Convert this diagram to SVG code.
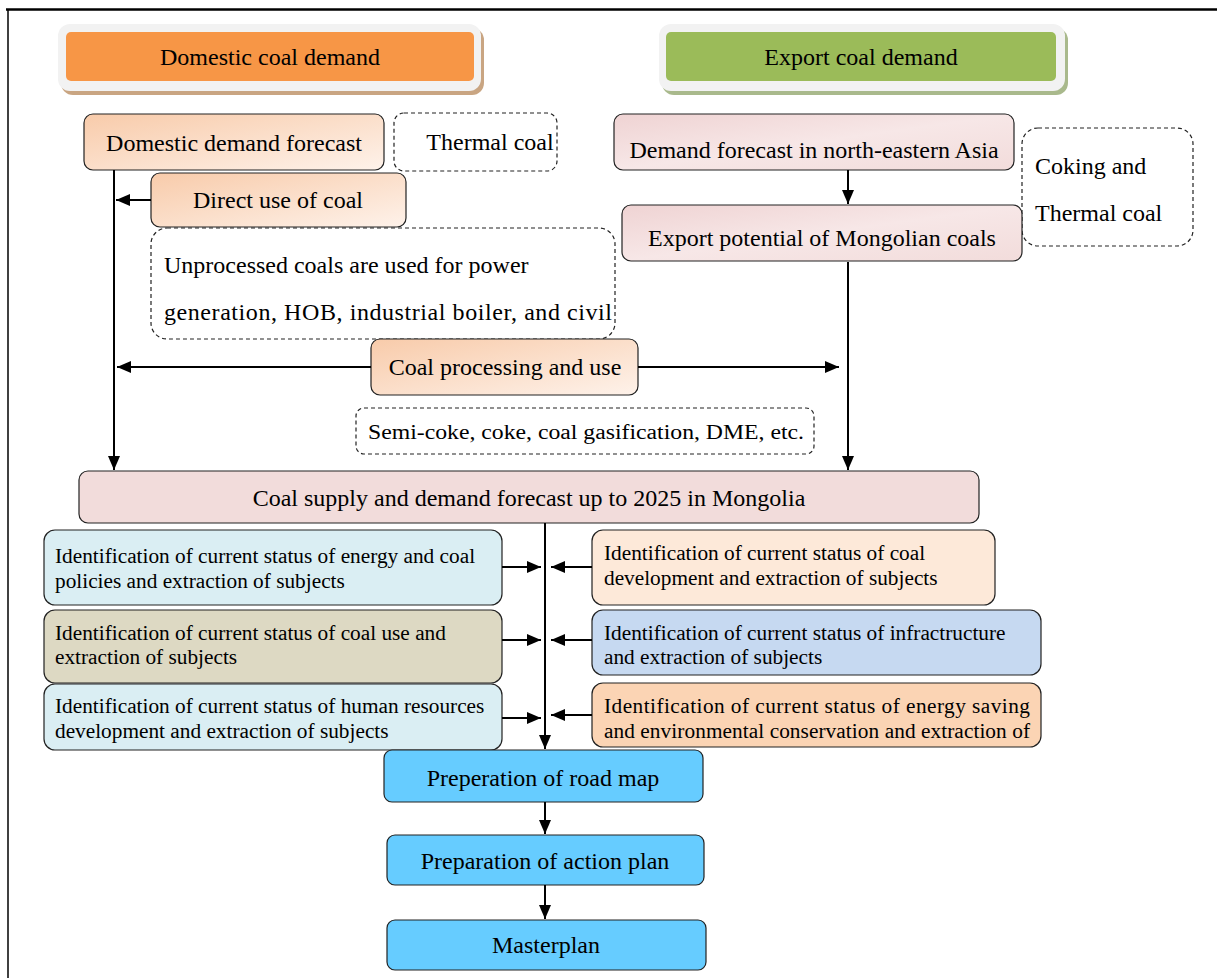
<svg xmlns="http://www.w3.org/2000/svg" width="1217" height="978" viewBox="0 0 1217 978">
<style>
text{font-family:"Liberation Serif","Times New Roman",serif;fill:#000}
.t24{font-size:24px}
.t21{font-size:21.3px}
.c{text-anchor:middle}
.box{stroke:#222;stroke-width:1.2}
.dash{fill:#fff;stroke:#222;stroke-width:1.2;stroke-dasharray:4 3}
.ln{stroke:#000;stroke-width:2;fill:none}
</style>
<defs>
<marker id="ah" markerUnits="userSpaceOnUse" markerWidth="14" markerHeight="12" refX="14" refY="6" orient="auto">
<path d="M0,0 L14,6 L0,12 z" fill="#000"/>
</marker>
<linearGradient id="peach" x1="0" y1="0" x2="1" y2="1">
<stop offset="0" stop-color="#F8CBAA"/>
<stop offset="1" stop-color="#FEF2EA"/>
</linearGradient>
<linearGradient id="pink" x1="0" y1="0" x2="1" y2="1">
<stop offset="0" stop-color="#EFD3D3"/>
<stop offset="0.5" stop-color="#F7E7E7"/>
<stop offset="1" stop-color="#F2DCDB"/>
</linearGradient>
</defs>
<rect width="1217" height="978" fill="#fff"/>
<g id="frame">
<line x1="6" y1="9.5" x2="1217" y2="9.5" stroke="#000" stroke-width="2.5"/>
<line x1="8" y1="9" x2="8" y2="978" stroke="#000" stroke-width="1.5"/>
</g>
<g id="domestic-coal-demand">
<rect x="61" y="28" width="423" height="67" rx="12" fill="#C9A582"/>
<rect x="58" y="24" width="423" height="67" rx="12" fill="#F2F2F2"/>
<rect x="66" y="32" width="408" height="49" rx="5" fill="#F79646"/>
<text class="t24 c" x="270" y="65">Domestic coal demand</text>
</g>
<g id="export-coal-demand">
<rect x="662" y="28" width="406" height="67" rx="12" fill="#A9B98C"/>
<rect x="659" y="24" width="406" height="67" rx="12" fill="#F2F2F2"/>
<rect x="666" y="32" width="390" height="49" rx="5" fill="#9BBB59"/>
<text class="t24 c" x="861" y="65">Export coal demand</text>
</g>
<g id="domestic-demand-forecast">
<rect class="box" x="84" y="114" width="300" height="56" rx="9" fill="url(#peach)"/>
<text class="t24 c" x="234" y="151">Domestic demand forecast</text>
</g>
<g id="thermal-coal">
<rect class="dash" x="394" y="113" width="163" height="58" rx="10"/>
<text class="t24 c" x="490" y="150">Thermal coal</text>
</g>
<g id="ne-asia-forecast">
<rect class="box" x="614" y="114" width="400" height="56" rx="9" fill="url(#pink)"/>
<text class="t24 c" x="814" y="158">Demand forecast in north-eastern Asia</text>
</g>
<g id="coking-thermal">
<rect class="dash" x="1022" y="128" width="171" height="118" rx="16"/>
<text class="t24" x="1035" y="174">Coking and</text>
<text class="t24" x="1035" y="221">Thermal coal</text>
</g>
<g id="direct-use">
<rect class="box" x="151" y="173" width="255" height="54" rx="9" fill="url(#peach)"/>
<text class="t24 c" x="278" y="208">Direct use of coal</text>
</g>
<g id="export-potential">
<rect class="box" x="622" y="205" width="400" height="56" rx="9" fill="url(#pink)"/>
<text class="t24 c" x="822" y="246">Export potential of Mongolian coals</text>
</g>
<g id="unprocessed">
<rect class="dash" x="151" y="228" width="464" height="111" rx="16"/>
<text class="t24" x="164" y="273">Unprocessed coals are used for power</text>
<text class="t24" x="164" y="320" textLength="448" lengthAdjust="spacing">generation, HOB, industrial boiler, and civil</text>
</g>
<g id="coal-processing">
<rect class="box" x="371" y="339" width="267" height="56" rx="9" fill="url(#peach)"/>
<text class="t24 c" x="505" y="375">Coal processing and use</text>
</g>
<g id="semi-coke">
<rect class="dash" x="356" y="408" width="458" height="46" rx="8"/>
<text class="t21" x="368" y="439" textLength="436" lengthAdjust="spacingAndGlyphs">Semi-coke, coke, coal gasification, DME, etc.</text>
</g>
<g id="supply-demand">
<rect class="box" x="79" y="471" width="900" height="52" rx="9" fill="#F2DCDB"/>
<text class="t24 c" x="529" y="506">Coal supply and demand forecast up to 2025 in Mongolia</text>
</g>
<g id="energy-policies">
<rect class="box" x="44" y="530" width="458" height="75" rx="11" fill="#DAEEF3"/>
<text class="t21" x="55" y="563">Identification of current status of energy and coal</text>
<text class="t21" x="55" y="588">policies and extraction of subjects</text>
</g>
<g id="coal-use">
<rect class="box" x="44" y="610" width="458" height="73" rx="11" fill="#DDD9C3"/>
<text class="t21" x="55" y="640">Identification of current status of coal use and</text>
<text class="t21" x="55" y="664">extraction of subjects</text>
</g>
<g id="human-resources">
<rect class="box" x="44" y="684" width="458" height="66" rx="11" fill="#DAEEF3"/>
<text class="t21" x="55" y="713">Identification of current status of human resources</text>
<text class="t21" x="55" y="738">development and extraction of subjects</text>
</g>
<g id="coal-development">
<rect class="box" x="592" y="530" width="403" height="75" rx="11" fill="#FDE9D9"/>
<text class="t21" x="604" y="560">Identification of current status of coal</text>
<text class="t21" x="604" y="585">development and extraction of subjects</text>
</g>
<g id="infrastructure">
<rect class="box" x="592" y="610" width="449" height="65" rx="11" fill="#C6D9F1"/>
<text class="t21" x="604" y="640">Identification of current status of infractructure</text>
<text class="t21" x="604" y="664">and extraction of subjects</text>
</g>
<g id="energy-saving">
<rect class="box" x="592" y="683" width="449" height="64" rx="11" fill="#FBD4B4"/>
<text class="t21" x="604" y="713" textLength="426" lengthAdjust="spacing">Identification of current status of energy saving</text>
<text class="t21" x="604" y="738" textLength="426" lengthAdjust="spacing">and environmental conservation and extraction of</text>
</g>
<g id="road-map">
<rect class="box" x="384" y="750" width="319" height="52" rx="8" fill="#66CCFF"/>
<text class="t24 c" x="543" y="786">Preperation of road map</text>
</g>
<g id="action-plan">
<rect class="box" x="387" y="835" width="317" height="50" rx="8" fill="#66CCFF"/>
<text class="t24 c" x="545" y="869">Preparation of action plan</text>
</g>
<g id="masterplan">
<rect class="box" x="387" y="920" width="319" height="50" rx="8" fill="#66CCFF"/>
<text class="t24 c" x="546" y="953">Masterplan</text>
</g>
<g id="connectors">
<line class="ln" x1="114" y1="170" x2="114" y2="470" marker-end="url(#ah)"/>
<line class="ln" x1="151" y1="200" x2="116" y2="200" marker-end="url(#ah)"/>
<line class="ln" x1="371" y1="367" x2="117" y2="367" marker-end="url(#ah)"/>
<line class="ln" x1="638" y1="367" x2="839" y2="367" marker-end="url(#ah)"/>
<line class="ln" x1="848" y1="170" x2="848" y2="204" marker-end="url(#ah)"/>
<line class="ln" x1="848" y1="262" x2="848" y2="470" marker-end="url(#ah)"/>
<line class="ln" x1="545" y1="523" x2="545" y2="749" marker-end="url(#ah)"/>
<line class="ln" x1="502" y1="567" x2="541" y2="567" marker-end="url(#ah)"/>
<line class="ln" x1="502" y1="640" x2="541" y2="640" marker-end="url(#ah)"/>
<line class="ln" x1="502" y1="718" x2="541" y2="718" marker-end="url(#ah)"/>
<line class="ln" x1="592" y1="567" x2="551" y2="567" marker-end="url(#ah)"/>
<line class="ln" x1="592" y1="640" x2="551" y2="640" marker-end="url(#ah)"/>
<line class="ln" x1="592" y1="715" x2="551" y2="715" marker-end="url(#ah)"/>
<line class="ln" x1="545" y1="802" x2="545" y2="834" marker-end="url(#ah)"/>
<line class="ln" x1="545" y1="885" x2="545" y2="919" marker-end="url(#ah)"/>
</g>
</svg>
